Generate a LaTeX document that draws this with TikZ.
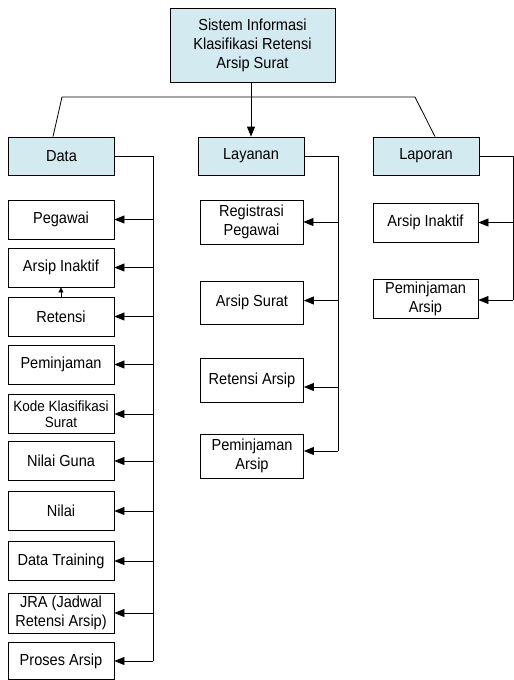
\documentclass[tikz,border=0pt]{standalone}
\usepackage{fontspec}
\setmainfont[FakeStretch=0.91]{Liberation Sans}
\usetikzlibrary{arrows.meta}
\definecolor{boxblue}{RGB}{211,234,240}

\begin{document}
\begin{tikzpicture}[x=1pt,y=-1pt,
	every node/.style={font=\fontsize{16}{19}\selectfont},
	box/.style={draw,line width=0.8pt,align=center,inner sep=0pt,minimum width=106pt,minimum height=39pt},
	head/.style={box,fill=boxblue},
	link/.style={line width=0.8pt,-{Triangle[length=10pt,width=8pt]}}]
	\useasboundingbox (0,0) rectangle (514,680);
	\node[head,minimum width=165pt,minimum height=74pt] (sis) at (252.5,45) {Sistem Informasi\\Klasifikasi Retensi\\Arsip Surat};
	\node[head,minimum height=38pt] (data) at (61.5,156) {Data};
	\node[head,minimum height=38pt] (lay) at (251,156) {Layanan};
	\node[head,minimum height=38pt] (lap) at (426,156) {Laporan};

	\node[box] (peg) at (61,219.5) {Pegawai};
	\node[box] (ina) at (61,267.5) {Arsip Inaktif};
	\node[box] (ret) at (61,316.5) {Retensi};
	\node[box] (pem) at (61,364.5) {Peminjaman};
	\node[box,font=\fontsize{14.8}{15.7}\selectfont] (kode) at (61,414) {Kode Klasifikasi\\Surat};
	\node[box] (guna) at (61,461) {Nilai Guna};
	\node[box] (nil) at (61,511) {Nilai};
	\node[box] (train) at (61,561) {Data Training};
	\node[box,minimum height=40pt] (jra) at (61,613) {JRA (Jadwal\\Retensi Arsip)};
	\node[box,minimum height=37pt] (pros) at (61,661) {Proses Arsip};

	\node[box,minimum width=103pt,minimum height=44pt] (reg) at (251.5,222) {Registrasi\\Pegawai};
	\node[box,minimum width=103pt,minimum height=43pt] (surat) at (252,302.5) {Arsip Surat};
	\node[box,minimum width=103pt,minimum height=44pt] (retarsip) at (252,380) {Retensi Arsip};
	\node[box,minimum width=103pt,minimum height=44pt] (pinjam) at (252,456) {Peminjaman\\Arsip};

	\node[box,minimum width=105pt] (lapina) at (425.5,222.5) {Arsip Inaktif};
	\node[box,minimum width=105pt] (lappinjam) at (425.5,298.5) {Peminjaman\\Arsip};

	\coordinate (bl) at (62,97);
	\coordinate (br) at (415,97);
	\coordinate (dbus) at (153,0);
	\coordinate (lbus) at (338,0);
	\coordinate (rbus) at (513,0);
	\coordinate (suratin) at ([yshift=2pt]surat.east);
	\coordinate (retarsipin) at ([yshift=-7pt]retarsip.east);
	\coordinate (pinjamin) at ([yshift=5pt]pinjam.east);
	\coordinate (lappinjamin) at ([yshift=-1.5pt]lappinjam.east);

	\draw[line width=0.8pt] ([xshift=-8.5pt]data.north) -- (bl) -- (br) -- ([xshift=9pt]lap.north);
	\draw[link] (lay.north |- sis.south) -- (lay.north);

	\draw[line width=0.8pt] (data.east) -| (dbus |- pros.east);
	\foreach \n in {peg,ina,ret,pem,kode,guna,nil,train,jra,pros}
		\draw[link] (dbus |- \n.east) -- (\n.east);
	\draw[line width=0.6pt,-{Triangle[length=5pt,width=5pt]}] (ret.north) -- (ina.south);

	\draw[line width=0.8pt] (lay.east) -| (lbus |- pinjamin);
	\draw[link] (lbus |- reg.east) -- (reg.east);
	\draw[link] (lbus |- suratin) -- (suratin);
	\draw[link] (lbus |- retarsipin) -- (retarsipin);
	\draw[link] (lbus |- pinjamin) -- (pinjamin);

	\draw[line width=0.8pt] (lap.east) -| (rbus |- lappinjamin);
	\draw[link] (rbus |- lapina.east) -- (lapina.east);
	\draw[link] (rbus |- lappinjamin) -- (lappinjamin);
\end{tikzpicture}
\end{document}
